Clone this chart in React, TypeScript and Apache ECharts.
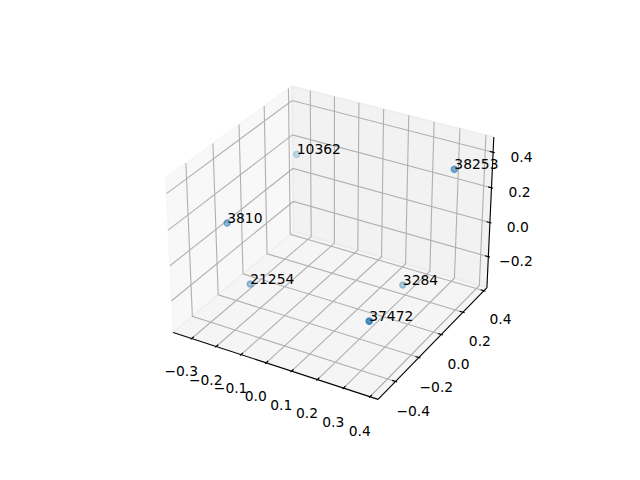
import React, { useEffect, useRef } from "react";
import * as echarts from "echarts";

// ---------------- data ----------------
const pointLabels = ["10362", "38253", "3810", "21254", "3284", "37472"];
const pointX = [-0.325, 0.379, -0.293, -0.234, 0.19, 0.366];
const pointY = [0.361, 0.195, -0.265, -0.211, 0.2, -0.483];
const pointZ = [0.141, 0.414, 0.109, -0.251, -0.33, -0.019];

const xTicks = [-0.3, -0.2, -0.1, 0.0, 0.1, 0.2, 0.3, 0.4];
const yTicks = [-0.4, -0.2, 0.0, 0.2, 0.4];
const zTicks = [-0.2, 0.0, 0.2, 0.4];
const xTickLabels = ["−0.3", "−0.2", "−0.1", "0.0", "0.1", "0.2", "0.3", "0.4"];
const yTickLabels = ["−0.4", "−0.2", "0.0", "0.2", "0.4"];
const zTickLabels = ["−0.2", "0.0", "0.2", "0.4"];

const xLimits = [-0.3605, 0.414];
const yLimits = [-0.525, 0.41];
const zLimits = [-0.3677, 0.4672];

// ---------------- 3D projection (matplotlib-like, elev 30, azim -60) ----------------
type V3 = [number, number, number];
const ELEV = 30;
const AZIM = -60;
const DIST = 10;
const aspectBase = [4, 4, 3];
const aspectNorm = Math.hypot(aspectBase[0], aspectBase[1], aspectBase[2]);
const BOX: V3 = aspectBase.map((a) => (a * 1.8294640721620434) / aspectNorm) as V3;
const rad = Math.PI / 180;
const ps: V3 = [
  Math.cos(ELEV * rad) * Math.cos(AZIM * rad),
  Math.cos(ELEV * rad) * Math.sin(AZIM * rad),
  Math.sin(ELEV * rad),
];
const sub = (a: V3, b: V3): V3 => [a[0] - b[0], a[1] - b[1], a[2] - b[2]];
const dot = (a: V3, b: V3) => a[0] * b[0] + a[1] * b[1] + a[2] * b[2];
const cross = (a: V3, b: V3): V3 => [
  a[1] * b[2] - a[2] * b[1],
  a[2] * b[0] - a[0] * b[2],
  a[0] * b[1] - a[1] * b[0],
];
const normalize = (a: V3): V3 => {
  const n = Math.sqrt(dot(a, a));
  return [a[0] / n, a[1] / n, a[2] / n];
};
const center: V3 = [BOX[0] / 2, BOX[1] / 2, BOX[2] / 2];
const eye: V3 = [center[0] + DIST * ps[0], center[1] + DIST * ps[1], center[2] + DIST * ps[2]];
const wv = normalize(sub(eye, center));
const uv = normalize(cross([0, 0, 1], wv));
const vv = cross(wv, uv);

function projectWorld(P: V3): [number, number, number] {
  const d = sub(P, eye);
  const xv = dot(uv, d);
  const yv = dot(vv, d);
  const zv = dot(wv, d);
  return [xv / -zv, yv / -zv, -10 / -zv];
}
const wx = (x: number) => ((x - xLimits[0]) / (xLimits[1] - xLimits[0])) * BOX[0];
const wy = (y: number) => ((y - yLimits[0]) / (yLimits[1] - yLimits[0])) * BOX[1];
const wz = (z: number) => ((z - zLimits[0]) / (zLimits[1] - zLimits[0])) * BOX[2];

const LO: V3 = [-BOX[0] / 48, -BOX[1] / 48, -BOX[2] / 48];
const HI: V3 = [(BOX[0] * 49) / 48, (BOX[1] * 49) / 48, (BOX[2] * 49) / 48];
const DELTA: V3 = [BOX[0] / 12, BOX[1] / 12, BOX[2] / 12];
const LD: V3 = [DELTA[0] * 1.051, DELTA[1] * 1.051, DELTA[2] * 1.051];

const PX = 1.3889; // 1pt in px at 100 dpi
const FONT = "DejaVu Sans";
const FS = 13.89;

function buildOption() {
  const panes = [
    {
      color: "rgba(242,242,242,0.5)",
      pts: [
        [LO[0], LO[1], LO[2]],
        [LO[0], HI[1], LO[2]],
        [LO[0], HI[1], HI[2]],
        [LO[0], LO[1], HI[2]],
      ] as V3[],
    },
    {
      color: "rgba(230,230,230,0.5)",
      pts: [
        [LO[0], HI[1], LO[2]],
        [HI[0], HI[1], LO[2]],
        [HI[0], HI[1], HI[2]],
        [LO[0], HI[1], HI[2]],
      ] as V3[],
    },
    {
      color: "rgba(236,236,236,0.5)",
      pts: [
        [LO[0], LO[1], LO[2]],
        [HI[0], LO[1], LO[2]],
        [HI[0], HI[1], LO[2]],
        [LO[0], HI[1], LO[2]],
      ] as V3[],
    },
  ];

  const gridLines: V3[][] = [];
  xTicks.forEach((t) => {
    const X = wx(t);
    gridLines.push([
      [X, LO[1], LO[2]],
      [X, HI[1], LO[2]],
      [X, HI[1], HI[2]],
    ]);
  });
  yTicks.forEach((t) => {
    const Y = wy(t);
    gridLines.push([
      [HI[0], Y, LO[2]],
      [LO[0], Y, LO[2]],
      [LO[0], Y, HI[2]],
    ]);
  });
  zTicks.forEach((t) => {
    const Z = wz(t);
    gridLines.push([
      [LO[0], LO[1], Z],
      [LO[0], HI[1], Z],
      [HI[0], HI[1], Z],
    ]);
  });

  const axisLines: V3[][] = [
    [
      [LO[0], LO[1], LO[2]],
      [HI[0], LO[1], LO[2]],
    ],
    [
      [HI[0], LO[1], LO[2]],
      [HI[0], HI[1], LO[2]],
    ],
    [
      [HI[0], HI[1], LO[2]],
      [HI[0], HI[1], HI[2]],
    ],
  ];

  const tickMarks: V3[][] = [];
  xTicks.forEach((t) => {
    const X = wx(t);
    tickMarks.push([
      [X, LO[1] - 0.1 * DELTA[1], LO[2]],
      [X, LO[1] + 0.2 * DELTA[1], LO[2]],
    ]);
  });
  yTicks.forEach((t) => {
    const Y = wy(t);
    tickMarks.push([
      [HI[0] + 0.1 * DELTA[0], Y, LO[2]],
      [HI[0] - 0.2 * DELTA[0], Y, LO[2]],
    ]);
  });
  zTicks.forEach((t) => {
    const Z = wz(t);
    tickMarks.push([
      [HI[0] + 0.1 * DELTA[0], HI[1], Z],
      [HI[0] - 0.2 * DELTA[0], HI[1], Z],
    ]);
  });

  const tickTexts: { p: V3; text: string; dx: number; dy: number }[] = [];
  xTicks.forEach((t, i) =>
    tickTexts.push({ p: [wx(t), LO[1] - LD[1], LO[2] - LD[2]], text: xTickLabels[i], dx: 0, dy: 11 })
  );
  yTicks.forEach((t, i) =>
    tickTexts.push({ p: [HI[0] + LD[0], wy(t), LO[2] - LD[2]], text: yTickLabels[i], dx: 0, dy: 11.5 })
  );
  zTicks.forEach((t, i) =>
    tickTexts.push({ p: [HI[0] + LD[0], HI[1] + LD[1], wz(t)], text: zTickLabels[i], dx: 2, dy: 8 })
  );

  // points
  const projected = pointLabels.map((_, i) =>
    projectWorld([wx(pointX[i]), wy(pointY[i]), wz(pointZ[i])])
  );
  const depths = projected.map((p) => p[2]);
  const dMin = Math.min(...depths);
  const dMax = Math.max(...depths);
  const scatterData = pointLabels.map((name, i) => {
    const a = 1 - ((depths[i] - dMin) / (dMax - dMin)) * 0.7;
    const c = `rgba(31,119,180,${a.toFixed(3)})`;
    return {
      name,
      value: [projected[i][0], projected[i][1]],
      itemStyle: { color: c, borderColor: c, borderWidth: 1.4 },
    };
  });

  return {
    animation: false,
    backgroundColor: "#ffffff",
    grid: { left: 145.6, top: 57.6, width: 364.8, height: 364.8, containLabel: false },
    xAxis: { type: "value", min: -0.095, max: 0.09, show: false },
    yAxis: { type: "value", min: -0.095, max: 0.09, show: false },
    series: [
      {
        type: "custom",
        name: "frame",
        coordinateSystem: "cartesian2d",
        silent: true,
        clip: false,
        z: 1,
        data: [[0, 0]],
        renderItem: (_params: any, api: any) => {
          const pt = (P: V3) => {
            const p = projectWorld(P);
            return api.coord([p[0], p[1]]);
          };
          const children: any[] = [];
          panes.forEach((pn) =>
            children.push({
              type: "polygon",
              shape: { points: pn.pts.map(pt) },
              style: { fill: pn.color, stroke: pn.color, lineWidth: PX },
            })
          );
          gridLines.forEach((g) =>
            children.push({
              type: "polyline",
              shape: { points: g.map(pt) },
              style: { stroke: "#b0b0b0", lineWidth: 0.8 * PX, fill: null },
            })
          );
          axisLines.forEach((g) =>
            children.push({
              type: "polyline",
              shape: { points: g.map(pt) },
              style: { stroke: "#000000", lineWidth: 0.8 * PX, fill: null },
            })
          );
          tickMarks.forEach((g) =>
            children.push({
              type: "polyline",
              shape: { points: g.map(pt) },
              style: { stroke: "#000000", lineWidth: 0.8 * PX, fill: null },
            })
          );
          tickTexts.forEach((tt) => {
            const c = pt(tt.p);
            children.push({
              type: "text",
              x: c[0] + tt.dx,
              y: c[1] + tt.dy,
              style: {
                text: tt.text,
                fill: "#000000",
                fontFamily: FONT,
                fontSize: FS,
                align: "center",
                verticalAlign: "middle",
              },
            });
          });
          return { type: "group", children };
        },
      },
      {
        type: "scatter",
        name: "points",
        z: 2,
        symbol: "circle",
        symbolSize: 6.2,
        data: scatterData,
      },
      {
        type: "custom",
        name: "labels",
        coordinateSystem: "cartesian2d",
        silent: true,
        clip: false,
        z: 3,
        data: pointLabels.map((name, i) => [projected[i][0], projected[i][1], name]),
        renderItem: (params: any, api: any) => {
          const c = api.coord([api.value(0), api.value(1)]);
          return {
            type: "text",
            x: c[0],
            y: c[1] - 5,
            style: {
              text: pointLabels[params.dataIndex],
              fill: "#000000",
              fontFamily: FONT,
              fontSize: FS,
              align: "left",
              verticalAlign: "middle",
            },
          };
        },
      },
    ],
  };
}

export default function App() {
  const ref = useRef<HTMLDivElement>(null);
  useEffect(() => {
    if (!ref.current) return;
    const chart = echarts.init(ref.current, undefined, { renderer: "svg" });
    chart.setOption(buildOption() as any);
    return () => chart.dispose();
  }, []);
  return (
    <div
      ref={ref}
      style={{ position: "absolute", left: 0, top: 0, width: 640, height: 480, background: "#ffffff" }}
    />
  );
}
